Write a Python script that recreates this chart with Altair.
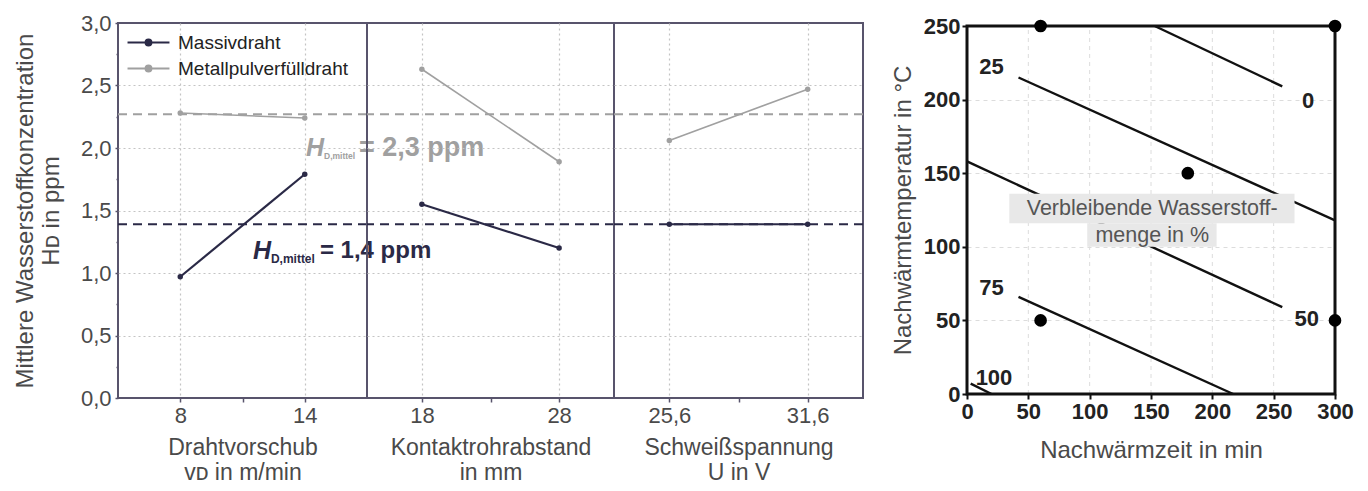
import altair as alt
import pandas as pd

FONT = "Liberation Sans"
FRAME = "#58546c"
GRID = "#c4c4c4"
TXT = "#4a4a4a"

# ---------------- left chart data ----------------
series = ["Massivdraht", "Metallpulverfülldraht"]
series_colors = ["#2a2946", "#a0a0a0"]

p1_x = [8, 14]
p1_massiv = [0.97, 1.79]
p1_metall = [2.28, 2.24]
p1_domain = [5, 17]
p1_ticks = [8, 11, 14]
p1_labels = ["8", "", "14"]
p1_title = ["Drahtvorschub", "vᴅ in m/min"]

p2_x = [18, 28]
p2_massiv = [1.55, 1.20]
p2_metall = [2.63, 1.89]
p2_domain = [14, 32]
p2_ticks = [18, 23, 28]
p2_labels = ["18", "", "28"]
p2_title = ["Kontaktrohrabstand", "in mm"]

p3_x = [25.6, 31.6]
p3_massiv = [1.39, 1.39]
p3_metall = [2.06, 2.47]
p3_domain = [23.2, 34.0]
p3_ticks = [25.6, 28.6, 31.6]
p3_labels = ["25,6", "", "31,6"]
p3_title = ["Schweißspannung", "U in V"]

mean_values = [1.39, 2.27]
mean_text = ["= 1,4 ppm", "= 2,3 ppm"]
mean_text_x = [11.5, 14.06]
mean_text_y = [1.18, 2.0]

y_ticks = [0, 0.25, 0.5, 0.75, 1.0, 1.25, 1.5, 1.75, 2.0, 2.25, 2.5, 2.75, 3.0]
y_title = ["Mittlere Wasserstoffkonzentration", "Hᴅ in ppm"]

# ---------------- right chart data ----------------
rx_ticks = [0, 50, 100, 150, 200, 250, 300]
ry_ticks = [0, 50, 100, 150, 200, 250]
rx_grid = [50, 100, 150, 200, 250]
r_xlim = [0, 300]
r_ylim = [0, 250]
c_levels = ["0", "25", "50", "75", "100"]
c_x = [[153, 257], [42, 300], [0, 257], [42, 217], [3, 20]]
c_y = [[250, 209], [215, 118], [158, 59], [66, 0], [7, 0]]
lab_x = [278, 20, 277, 20, 22]
lab_y = [199, 222, 51, 72, 11]
pts_x = [60, 300, 180, 60, 300]
pts_y = [250, 250, 150, 50, 50]
box_x1 = [34.5, 98]
box_x2 = [267, 203.5]
box_y1 = [136, 116]
box_y2 = [116, 100]
box_text = ["Verbleibende Wasserstoff-", "menge in %"]
box_text_x = [151, 151]
box_text_y = [126, 107.5]

color_scale = alt.Scale(domain=series, range=series_colors)

ylab_expr = "datum.value % 0.5 == 0 ? replace(format(datum.value, '.1f'), '.', ',') : ''"
ygrid_op = {"condition": {"test": "datum.value % 0.5 != 0 || datum.value == 0 || datum.value == 3",
                          "value": 0}, "value": 1}
legend_symbol = ("M-2,0H2M0.28,0A0.28,0.28 0 1,1 -0.28,0A0.28,0.28 0 1,1 0.28,0")


def panel(xs, massiv, metall, domain, ticks, labels, title, first, width):
    df = pd.DataFrame({
        "x": xs + xs,
        "y": massiv + metall,
        "series": [series[0]] * len(xs) + [series[1]] * len(xs),
    })
    label_expr = "".join(f"datum.value == {t} ? '{l}' : " for t, l in zip(ticks, labels)) + "''"
    minor = [t for t, l in zip(ticks, labels) if l == ""]
    minor_test = " || ".join(f"datum.value == {t}" for t in minor)
    xaxis = alt.Axis(
        values=ticks, labelExpr=label_expr, title=title, grid=True, gridDash=[2, 3],
        gridColor=GRID, gridWidth=1.2,
        gridOpacity={"condition": {"test": minor_test, "value": 0}, "value": 1},
        domain=False, tickColor=FRAME, tickSize=4, tickWidth=1.5,
        labelFontSize=22, labelColor=TXT, titleFontSize=23, titleColor=TXT,
        titleFontWeight="normal", labelPadding=3, titlePadding=10, titleLineHeight=25,
    )
    if first:
        yaxis = alt.Axis(
            values=y_ticks, labelExpr=ylab_expr, title=y_title, grid=True, gridDash=[2, 3],
            gridColor=GRID, gridWidth=1.2, gridOpacity=ygrid_op, domain=False,
            tickColor=FRAME, tickWidth=1.5,
            tickSize={"condition": {"test": "datum.value % 0.5 != 0", "value": 2}, "value": 3},
            labelFontSize=22, labelColor=TXT, titleFontSize=24, titleColor=TXT,
            titleFontWeight="normal", titlePadding=17, labelPadding=4, titleLineHeight=26,
        )
        legend = alt.Legend(
            title=None, orient="none", legendX=19, legendY=8, padding=0,
            symbolType=legend_symbol, symbolSize=440,
            symbolStrokeWidth=2, labelFontSize=19, labelColor="#222", rowPadding=4,
            labelFont=FONT, labelLimit=400, labelOffset=18,
        )
    else:
        yaxis = alt.Axis(
            values=y_ticks, labels=False, ticks=False, domain=False, title=None, grid=True,
            gridDash=[2, 3], gridColor=GRID, gridWidth=1.2, gridOpacity=ygrid_op,
        )
        legend = None

    X = alt.X("x:Q", scale=alt.Scale(domain=domain, nice=False, zero=False), axis=xaxis)
    Y = alt.Y("y:Q", scale=alt.Scale(domain=[0, 3], nice=False), axis=yaxis)
    C = alt.Color("series:N", scale=color_scale, legend=legend)

    mean_df = pd.DataFrame({"y": mean_values, "series": series})
    rules = alt.Chart(mean_df).mark_rule(strokeDash=[9, 6], strokeWidth=2.2).encode(
        y=alt.Y("y:Q", scale=alt.Scale(domain=[0, 3], nice=False), axis=yaxis), color=C
    )
    lines = alt.Chart(df).mark_line(
        point=alt.OverlayMarkDef(filled=True, size=30, opacity=1)
    ).encode(
        x=X, y=Y, color=C,
        strokeWidth=alt.StrokeWidth("series:N", scale=alt.Scale(domain=series, range=[2.2, 1.6]), legend=None),
    )
    layers = [rules, lines]
    if first:
        tdf = pd.DataFrame({"x": mean_text_x, "y": mean_text_y, "series": series,
                            "h": ["H", "H"], "sub": ["D,mittel", "D,mittel"], "rest": mean_text})
        tx = alt.X("x:Q", scale=alt.Scale(domain=domain, nice=False, zero=False), axis=xaxis)
        # (series, subscript font, rest font, rest offset)
        for s, sub_fs, rest_fs, rest_dx in [(series[0], 12, 24, 67), (series[1], 8.5, 27, 53)]:
            base = alt.Chart(tdf).transform_filter(alt.datum.series == s)
            layers.append(base.mark_text(align="left", baseline="middle", fontSize=25,
                                         fontWeight="bold", fontStyle="italic").encode(
                x=tx, y=Y, color=C, text="h:N"))
            layers.append(base.mark_text(align="left", baseline="middle", fontSize=sub_fs,
                                         fontWeight="bold", dx=18, dy=8).encode(
                x=tx, y=Y, color=C, text="sub:N"))
            layers.append(base.mark_text(align="left", baseline="middle", fontSize=rest_fs,
                                         fontWeight="bold", dx=rest_dx).encode(
                x=tx, y=Y, color=C, text="rest:N"))
    return alt.layer(*layers).properties(
        width=width, height=375,
        view=alt.ViewBackground(stroke=FRAME, strokeWidth=2),
    )


p1 = panel(p1_x, p1_massiv, p1_metall, p1_domain, p1_ticks, p1_labels, p1_title, True, 249)
p2 = panel(p2_x, p2_massiv, p2_metall, p2_domain, p2_ticks, p2_labels, p2_title, False, 247)
p3 = panel(p3_x, p3_massiv, p3_metall, p3_domain, p3_ticks, p3_labels, p3_title, False, 249)

left = alt.hconcat(p1, p2, p3, spacing=0, bounds="flush").resolve_scale(
    x="independent", color="independent"
).resolve_axis(x="independent", y="independent")

# ---------------- right chart ----------------
lines_df = pd.DataFrame({
    "level": [lv for lv, xs in zip(c_levels, c_x) for _ in xs],
    "x": [v for xs in c_x for v in xs],
    "y": [v for ys in c_y for v in ys],
})
lab_df = pd.DataFrame({"x": lab_x, "y": lab_y, "t": c_levels})
pts_df = pd.DataFrame({"x": pts_x, "y": pts_y})
box_df = pd.DataFrame({"x1": box_x1, "x2": box_x2, "y1": box_y1, "y2": box_y2})
bt_df = pd.DataFrame({"x": box_text_x, "y": box_text_y, "t": box_text})
grid_df = pd.DataFrame({"x": rx_grid})
frame_df = pd.DataFrame({"x1": [r_xlim[0]], "x2": [r_xlim[1]], "y1": [r_ylim[0]], "y2": [r_ylim[1]]})

RH = 371
RX = alt.Scale(domain=r_xlim, nice=False)
RY = alt.Scale(domain=r_ylim, nice=False, range=[RH, 3])
rxaxis = alt.Axis(values=rx_ticks, title="Nachwärmzeit in min", grid=False,
                  domain=False, tickColor="#111", tickWidth=2, tickSize=5,
                  labelFontSize=22, labelColor="#222", labelFontWeight="bold", labelPadding=2,
                  titleFontSize=24, titleColor=TXT, titleFontWeight="normal", titlePadding=16,
                  labelFlush=False)
ryaxis = alt.Axis(values=ry_ticks, title="Nachwärmtemperatur in °C", grid=True, gridDash=[4, 4],
                  gridColor="#dcdcdc",
                  gridOpacity={"condition": {"test": "datum.value == 0 || datum.value == 250",
                                             "value": 0}, "value": 1},
                  domain=False, tickColor="#111", tickWidth=2, tickSize=5,
                  labelFontSize=22, labelColor="#222", labelFontWeight="bold", labelPadding=2,
                  titleFontSize=24, titleColor=TXT, titleFontWeight="normal", titlePadding=8,
                  labelFlush=False)

r_grid = alt.Chart(grid_df).mark_rule(color="#dcdcdc", strokeDash=[4, 4], strokeWidth=1).encode(
    x=alt.X("x:Q", scale=RX, axis=rxaxis),
    y=alt.datum(r_ylim[0], scale=RY), y2=alt.datum(r_ylim[1]),
)
r_lines = alt.Chart(lines_df).mark_line(color="#111", strokeWidth=2.4).encode(
    x=alt.X("x:Q", scale=RX, axis=rxaxis), y=alt.Y("y:Q", scale=RY, axis=ryaxis), detail="level:N"
)
r_box = alt.Chart(box_df).mark_rect(color="#e8e8e8").encode(
    x=alt.X("x1:Q", scale=RX), x2="x2:Q", y=alt.Y("y1:Q", scale=RY), y2="y2:Q"
)
r_boxtext = alt.Chart(bt_df).mark_text(fontSize=21.5, color="#555", baseline="middle").encode(
    x=alt.X("x:Q", scale=RX), y=alt.Y("y:Q", scale=RY), text="t:N"
)
r_labels = alt.Chart(lab_df).mark_text(fontSize=22, fontWeight="bold", color="#222",
                                       baseline="middle").encode(
    x=alt.X("x:Q", scale=RX), y=alt.Y("y:Q", scale=RY), text="t:N"
)
r_frame = alt.Chart(frame_df).mark_rect(fill=None, fillOpacity=0, stroke="#111", strokeWidth=3).encode(
    x=alt.X("x1:Q", scale=RX), x2="x2:Q", y=alt.Y("y1:Q", scale=RY), y2="y2:Q"
)
r_pts = alt.Chart(pts_df).mark_circle(size=160, color="#000", opacity=1).encode(
    x=alt.X("x:Q", scale=RX), y=alt.Y("y:Q", scale=RY)
)
right = alt.layer(r_grid, r_lines, r_box, r_boxtext, r_labels, r_frame, r_pts).properties(
    width=368, height=RH,
    view=alt.ViewBackground(stroke=None),
)

chart = alt.hconcat(left, right, spacing=25).properties(
    padding={"left": 4, "top": 3, "right": 0, "bottom": 0}
).configure(font=FONT).configure_text(font=FONT)

chart.save("out.html", embed_options={"renderer": "svg", "actions": False})
